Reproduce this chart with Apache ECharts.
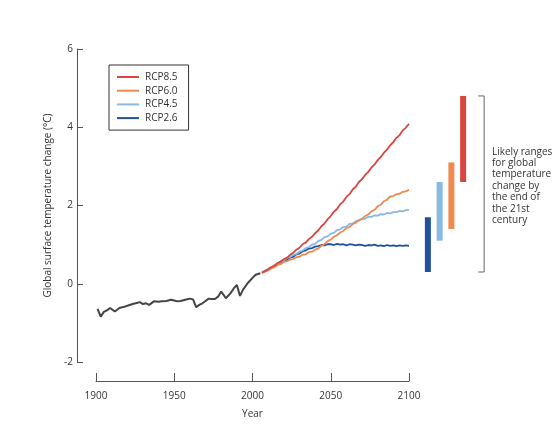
<!DOCTYPE html>
<html>
<head>
<meta charset="utf-8">
<script src="https://cdn.jsdelivr.net/npm/echarts@6/dist/echarts.min.js"></script>
<style>html,body{margin:0;padding:0;background:#fff}#c{width:555px;height:432px}</style>
</head>
<body>
<div id="c"></div>
<script>
// ---- Data ----
var histYears = [1901,1903,1905,1907,1909,1910,1912,1913,1915,1918,1921,1924,1926,1928,1930,1932,1934,1937,1940,1942,1945,1948,1950,1952,1954,1957,1960,1962,1964,1966,1968,1970,1972,1974,1976,1978,1980,1983,1986,1988,1990,1992,1994,1997,2000,2002,2005];
var histTemps = [-0.64,-0.84,-0.72,-0.68,-0.62,-0.64,-0.71,-0.66,-0.62,-0.59,-0.55,-0.51,-0.49,-0.47,-0.52,-0.50,-0.54,-0.45,-0.46,-0.45,-0.44,-0.41,-0.43,-0.45,-0.44,-0.41,-0.38,-0.40,-0.60,-0.54,-0.50,-0.44,-0.38,-0.39,-0.39,-0.33,-0.20,-0.37,-0.24,-0.12,-0.03,-0.31,-0.15,0.02,0.15,0.23,0.27];

var projYears = [2006,2008,2010,2012,2014,2016,2018,2020,2022,2024,2026,2028,2030,2032,2034,2036,2038,2040,2042,2044,2046,2048,2050,2052,2054,2056,2058,2060,2062,2064,2066,2068,2070,2072,2074,2076,2078,2080,2082,2084,2086,2088,2090,2092,2094,2096,2098,2100];
var rcp85 = [0.28,0.32,0.37,0.42,0.46,0.53,0.57,0.63,0.66,0.74,0.79,0.87,0.92,1.01,1.05,1.14,1.20,1.29,1.36,1.47,1.54,1.65,1.73,1.84,1.91,2.03,2.10,2.22,2.29,2.41,2.48,2.60,2.67,2.78,2.86,2.97,3.05,3.16,3.24,3.35,3.43,3.54,3.62,3.73,3.80,3.92,3.99,4.09];
var rcp60 = [0.27,0.31,0.34,0.39,0.42,0.48,0.50,0.56,0.57,0.62,0.63,0.68,0.69,0.74,0.75,0.81,0.82,0.87,0.90,0.97,1.01,1.09,1.13,1.20,1.24,1.31,1.35,1.42,1.45,1.52,1.56,1.63,1.66,1.73,1.77,1.85,1.89,1.98,2.02,2.11,2.15,2.23,2.24,2.29,2.30,2.35,2.36,2.40];
var rcp45 = [0.29,0.32,0.38,0.40,0.47,0.50,0.57,0.60,0.66,0.68,0.74,0.76,0.82,0.85,0.91,0.94,1.00,1.02,1.09,1.12,1.19,1.21,1.28,1.30,1.37,1.39,1.45,1.46,1.53,1.54,1.60,1.61,1.66,1.66,1.71,1.71,1.75,1.74,1.78,1.77,1.81,1.80,1.83,1.83,1.86,1.85,1.88,1.89];
var rcp26 = [0.29,0.33,0.37,0.42,0.45,0.51,0.54,0.59,0.61,0.67,0.69,0.75,0.77,0.83,0.85,0.90,0.91,0.95,0.96,0.99,0.98,1.01,1.01,0.99,1.02,1.00,1.01,0.98,1.01,1.00,0.98,1.00,0.99,0.97,0.99,0.98,1.00,0.97,0.98,0.96,0.99,0.97,0.98,0.96,0.98,0.97,0.98,0.97];

var scenarioNames = ['RCP8.5','RCP6.0','RCP4.5','RCP2.6'];
var rangeNames = ['RCP2.6','RCP4.5','RCP6.0','RCP8.5'];
var rangeLow  = [0.3, 1.1, 1.4, 2.6];
var rangeHigh = [1.7, 2.6, 3.1, 4.8];

var yTicks = [-2, 0, 2, 4, 6];
var xTicks = [1900, 1950, 2000, 2050, 2100];
var noteLines = ['Likely ranges','for global','temperature','change by','the end of','the 21st','century'];

// ---- Styles ----
var FONT = 'Open Sans';
var colors = {'RCP8.5':'#d9463f','RCP6.0':'#ef8a4e','RCP4.5':'#86bae5','RCP2.6':'#22519b'};
var axisColor = '#555';
var textColor = '#333';

function pairs(xs, ys){ return xs.map(function(x,i){return [x, ys[i]];}); }
var projMap = {'RCP8.5':rcp85,'RCP6.0':rcp60,'RCP4.5':rcp45,'RCP2.6':rcp26};

var chart = echarts.init(document.getElementById('c'), null, {renderer:'canvas'});

var series = [{
  type:'line', name:'Historical', xAxisIndex:0, yAxisIndex:0,
  data: pairs(histYears, histTemps), showSymbol:false, symbol:'none',
  lineStyle:{color:'#444', width:2}, itemStyle:{color:'#444'}, z:3
}];
['RCP2.6','RCP4.5','RCP6.0','RCP8.5'].forEach(function(n, i){
  series.push({
    type:'line', name:n, xAxisIndex:0, yAxisIndex:0,
    data: pairs(projYears, projMap[n]), showSymbol:false, symbol:'none',
    lineStyle:{color:colors[n], width:1.8}, itemStyle:{color:colors[n]}, z:4+i
  });
});
series.push({
  type:'custom', name:'ranges', xAxisIndex:1, yAxisIndex:1, clip:false,
  data: rangeNames.map(function(n,i){return [i, rangeLow[i], rangeHigh[i]];}),
  renderItem:function(params, api){
    var top = api.coord([api.value(0), api.value(2)]);
    var bot = api.coord([api.value(0), api.value(1)]);
    return {type:'rect', shape:{x: top[0]-3, y: top[1], width: 6, height: bot[1]-top[1]},
            style:{fill: colors[rangeNames[params.dataIndex]]}};
  }
});
var allLow = Math.min.apply(null, rangeLow), allHigh = Math.max.apply(null, rangeHigh);
series.push({
  type:'custom', name:'bracket', xAxisIndex:1, yAxisIndex:1, clip:false,
  data: [[rangeNames.length-1, allLow, allHigh]],
  renderItem:function(params, api){
    var t = api.coord([api.value(0), api.value(2)]);
    var b = api.coord([api.value(0), api.value(1)]);
    var x = t[0] + 21;
    return {type:'polyline', shape:{points:[[x-6, t[1]],[x, t[1]],[x, b[1]],[x-6, b[1]]]},
            style:{stroke:'#666', lineWidth:1, fill:null}};
  }
});

chart.setOption({
  animation:false,
  backgroundColor:'#fff',
  textStyle:{fontFamily:FONT},
  legend:{
    data: scenarioNames.map(function(n){return {name:n, icon:'rect', itemStyle:{color:colors[n]}};}),
    orient:'vertical', left:109, top:65,
    padding:[6,11,6,8], itemGap:1.7, itemWidth:22, itemHeight:2,
    borderColor:'#333', borderWidth:1, borderRadius:0,
    textStyle:{fontFamily:FONT, fontSize:10, lineHeight:12, color:textColor, padding:[0,0,0,1]},
    selectedMode:false
  },
  grid:[
    {left:96, right:146, top:49, bottom:70},
    {left:422, width:47, top:49, bottom:70}
  ],
  xAxis:[{
    type:'value', gridIndex:0, min:xTicks[0], max:xTicks[xTicks.length-1], interval:50, offset:19,
    name:'Year', nameLocation:'middle', nameGap:28,
    nameTextStyle:{fontFamily:FONT, fontSize:10, color:textColor},
    axisLine:{show:true, onZero:false, lineStyle:{color:axisColor, width:1}},
    axisTick:{show:true, inside:true, length:8, lineStyle:{color:axisColor}},
    axisLabel:{fontFamily:FONT, fontSize:10, color:textColor, margin:10, formatter:function(v){return String(v);}},
    splitLine:{show:false}
  },{
    type:'category', gridIndex:1, data: rangeNames, show:false
  }],
  yAxis:[{
    type:'value', gridIndex:0, min:yTicks[0], max:yTicks[yTicks.length-1], interval:2, offset:19,
    name:'Global surface temperature change (°C)', nameLocation:'middle', nameGap:16, nameRotate:90,
    nameTextStyle:{fontFamily:FONT, fontSize:10, color:textColor},
    axisLine:{show:true, onZero:false, lineStyle:{color:axisColor, width:1}},
    axisTick:{show:true, inside:true, length:6, lineStyle:{color:axisColor}},
    axisLabel:{fontFamily:FONT, fontSize:10, color:textColor, margin:4},
    splitLine:{show:false}
  },{
    type:'value', gridIndex:1, min:yTicks[0], max:yTicks[yTicks.length-1], show:false
  }],
  graphic:[{
    type:'text', left:492, top:146,
    style:{text: noteLines.join('\n'), fill:textColor, font:'10px "Open Sans"', lineHeight:11.4}
  }],
  series: series
});
</script>
</body>
</html>
